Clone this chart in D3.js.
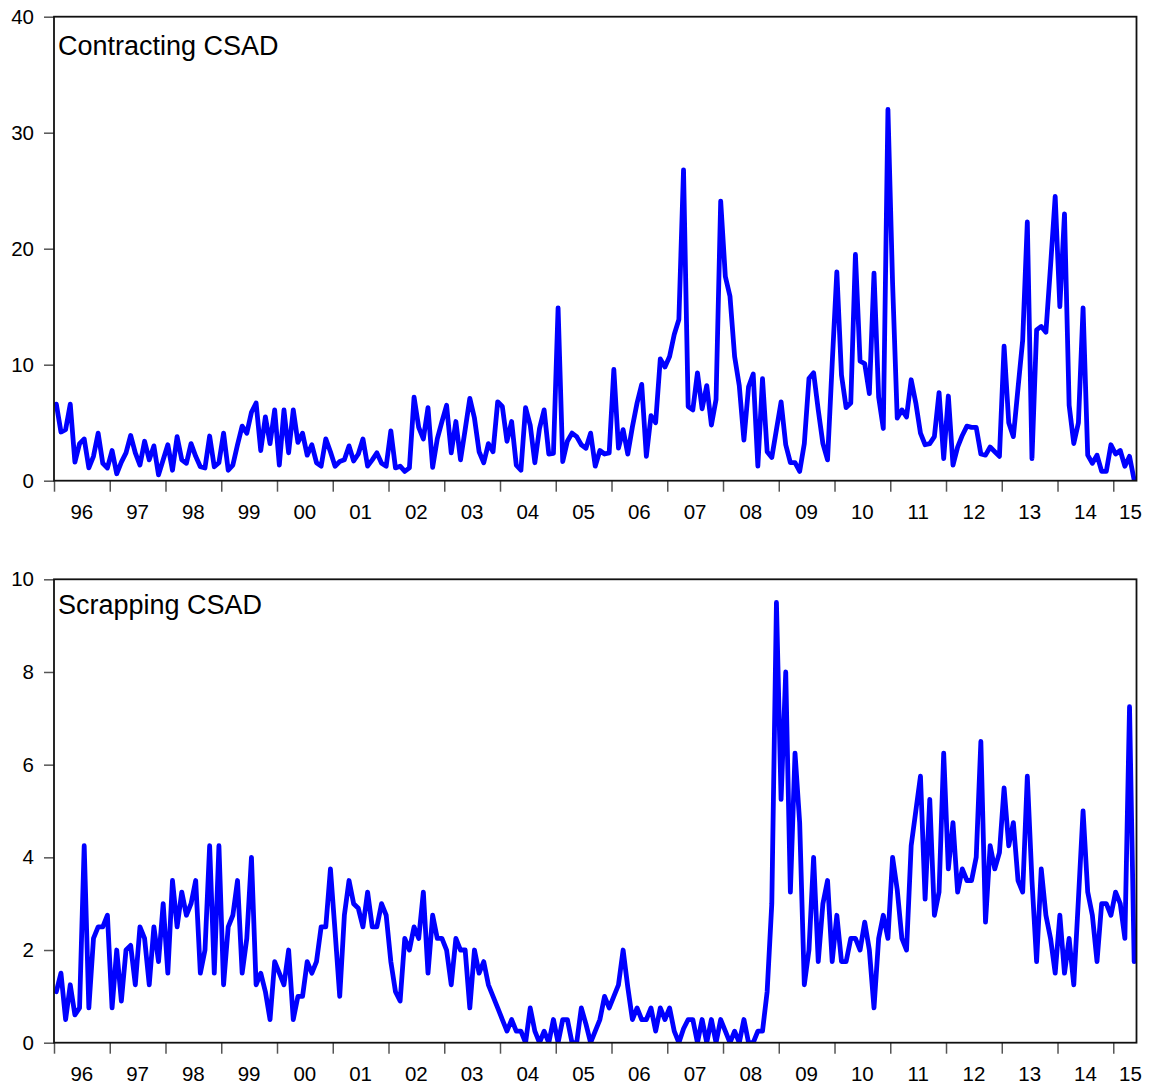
<!DOCTYPE html>
<html><head><meta charset="utf-8">
<script src="https://cdn.jsdelivr.net/npm/d3@7"></script>
<style>body{margin:0;background:#fff}</style>
</head><body>
<svg id="c" width="1150" height="1089"></svg>
<script>
const yearLabels = ["96","97","98","99","00","01","02","03","04","05","06","07","08","09","10","11","12","13","14","15"];

const contracting = [
  6.6, 4.2, 4.4, 6.6, 1.6, 3.2, 3.6, 1.1, 2.1, 4.1, 1.5, 1.1,
  2.6, 0.6, 1.6, 2.4, 3.9, 2.4, 1.35, 3.4, 1.8, 3.0, 0.5, 1.8,
  3.1, 0.9, 3.8, 1.8, 1.5, 3.2, 2.1, 1.2, 1.1, 3.85, 1.2, 1.55,
  4.1, 0.9, 1.35, 3.1, 4.7, 4.1, 5.9, 6.7, 2.6, 5.5, 3.2, 6.1,
  1.35, 6.1, 2.4, 6.1, 3.3, 4.1, 2.2, 3.1, 1.55, 1.25, 3.6, 2.5,
  1.25, 1.65, 1.8, 3.0, 1.7, 2.3, 3.6, 1.25, 1.8, 2.4, 1.5, 1.25,
  4.3, 1.1, 1.25, 0.8, 1.1, 7.2, 4.6, 3.6, 6.3, 1.15, 3.6, 5.1,
  6.5, 2.4, 5.1, 1.8, 4.4, 7.1, 5.4, 2.5, 1.55, 3.2, 2.5, 6.8,
  6.4, 3.4, 5.1, 1.35, 0.9, 6.3, 4.8, 1.55, 4.5, 6.1, 2.3, 2.35,
  14.9, 1.65, 3.4, 4.1, 3.8, 3.1, 2.8, 4.1, 1.25, 2.6, 2.3, 2.4,
  9.6, 2.8, 4.4, 2.3, 4.65, 6.7, 8.3, 2.1, 5.6, 5.0, 10.5, 9.8,
  10.7, 12.6, 13.9, 26.8, 6.4, 6.1, 9.3, 6.2, 8.2, 4.8, 7.0, 24.1,
  17.6, 15.9, 10.7, 8.2, 3.5, 8.1, 9.2, 1.25, 8.8, 2.5, 2.0, 4.4,
  6.8, 3.1, 1.55, 1.55, 0.8, 3.2, 8.8, 9.3, 6.1, 3.2, 1.8, 10.1,
  18.0, 9.1, 6.3, 6.7, 19.5, 10.3, 10.1, 7.5, 17.9, 7.2, 4.5, 32.0,
  17.0, 5.4, 6.1, 5.5, 8.7, 6.7, 4.1, 3.1, 3.2, 3.8, 7.6, 1.9,
  7.3, 1.35, 2.9, 3.9, 4.7, 4.6, 4.6, 2.3, 2.2, 2.9, 2.5, 2.1,
  11.6, 5.0, 3.8, 8.0, 12.1, 22.3, 1.9, 13.0, 13.3, 12.8, 18.5, 24.5,
  15.0, 23.0, 6.5, 3.2, 5.0, 14.9, 2.2, 1.5, 2.2, 0.8, 0.8, 3.1,
  2.3, 2.6, 1.25, 2.1, 0.05
];

const scrapping = [
  1.1, 1.5, 0.5, 1.25, 0.6, 0.75, 4.25, 0.75, 2.25, 2.5, 2.5, 2.75,
  0.75, 2.0, 0.9, 2.0, 2.1, 1.25, 2.5, 2.25, 1.25, 2.5, 1.75, 3.0,
  1.5, 3.5, 2.5, 3.25, 2.75, 3.0, 3.5, 1.5, 2.0, 4.25, 1.5, 4.25,
  1.25, 2.5, 2.75, 3.5, 1.5, 2.25, 4.0, 1.25, 1.5, 1.1, 0.5, 1.75,
  1.5, 1.25, 2.0, 0.5, 1.0, 1.0, 1.75, 1.5, 1.75, 2.5, 2.5, 3.75,
  2.4, 1.0, 2.75, 3.5, 3.0, 2.9, 2.5, 3.25, 2.5, 2.5, 3.0, 2.75,
  1.75, 1.1, 0.9, 2.25, 2.0, 2.5, 2.25, 3.25, 1.5, 2.75, 2.25, 2.25,
  2.0, 1.25, 2.25, 2.0, 2.0, 0.75, 2.0, 1.5, 1.75, 1.25, 1.0, 0.75,
  0.5, 0.25, 0.5, 0.25, 0.25, 0, 0.75, 0.25, 0, 0.25, 0, 0.5,
  0, 0.5, 0.5, 0, 0, 0.75, 0.4, 0, 0.25, 0.5, 1.0, 0.75,
  1.0, 1.25, 2.0, 1.2, 0.5, 0.75, 0.5, 0.5, 0.75, 0.25, 0.75, 0.5,
  0.75, 0.25, 0, 0.3, 0.5, 0.5, 0, 0.5, 0, 0.5, 0, 0.5,
  0.25, 0, 0.25, 0, 0.5, 0, 0, 0.25, 0.25, 1.1, 3.0, 9.5,
  5.25, 8.0, 3.25, 6.25, 4.75, 1.25, 2.0, 4.0, 1.75, 3.0, 3.5, 1.75,
  2.75, 1.75, 1.75, 2.25, 2.25, 2.0, 2.6, 2.0, 0.75, 2.25, 2.75, 2.25,
  4.0, 3.3, 2.25, 2.0, 4.25, 5.0, 5.75, 3.1, 5.25, 2.75, 3.25, 6.25,
  3.75, 4.75, 3.25, 3.75, 3.5, 3.5, 4.0, 6.5, 2.6, 4.25, 3.75, 4.1,
  5.5, 4.25, 4.75, 3.5, 3.25, 5.75, 3.5, 1.75, 3.75, 2.75, 2.25, 1.5,
  2.75, 1.5, 2.25, 1.25, 3.1, 5.0, 3.25, 2.75, 1.75, 3.0, 3.0, 2.75,
  3.25, 3.0, 2.25, 7.25, 1.75
];

const contractingTicks = [0, 10, 20, 30, 40];
const scrappingTicks = [0, 2, 4, 6, 8, 10];

const svg = d3.select("#c");
const FONT = "'Liberation Sans', Arial, Helvetica, sans-serif";
const L = 54, R = 1136.5;

function panel(id, top, bottom, data, yMax, ticks, title, titleY) {
  const n = data.length;
  const x = d3.scaleLinear().domain([0, n]).range([L, R]);
  const y = d3.scaleLinear().domain([0, yMax]).range([bottom, top]);
  const g = svg.append("g");

  g.append("clipPath").attr("id", id).append("rect")
    .attr("x", L).attr("y", top).attr("width", R - L).attr("height", bottom - top);

  const ya = g.append("g").attr("transform", `translate(${L},0)`)
    .call(d3.axisLeft(y).tickValues(ticks).tickSize(10).tickPadding(10).tickFormat(d3.format("d")));
  ya.select(".domain").remove();
  ya.selectAll("line").attr("stroke", "#555").attr("stroke-width", 1.5);
  ya.selectAll("text").attr("font-family", FONT).attr("font-size", "20.5px").attr("fill", "#000");

  const xt = d3.range(0, n, 12);
  const xa = g.append("g").attr("transform", `translate(0,${bottom})`)
    .call(d3.axisBottom(x).tickValues(xt).tickSize(11).tickFormat(""));
  xa.select(".domain").remove();
  xa.selectAll("line").attr("stroke", "#555").attr("stroke-width", 1.5);

  g.selectAll("text.yl").data(yearLabels).enter().append("text")
    .attr("class", "yl")
    .attr("x", (d, i) => Math.min(x(i * 12 + 6), R - 6))
    .attr("y", bottom + 38.5)
    .attr("text-anchor", "middle")
    .attr("font-family", FONT).attr("font-size", "20.5px").attr("fill", "#000")
    .text(d => d);

  const line = d3.line().x((d, i) => x(i + 0.5)).y(d => y(d));
  g.append("path").datum(data)
    .attr("clip-path", `url(#${id})`)
    .attr("d", line)
    .attr("fill", "none")
    .attr("stroke", "#0000ff")
    .attr("stroke-width", 4.8)
    .attr("stroke-linejoin", "round")
    .attr("stroke-linecap", "round");

  g.append("rect").attr("x", L).attr("y", top).attr("width", R - L).attr("height", bottom - top)
    .attr("fill", "none").attr("stroke", "#111").attr("stroke-width", 1.8);

  g.append("text").attr("x", 58).attr("y", titleY)
    .attr("font-family", FONT).attr("font-size", "27px").attr("fill", "#000")
    .text(title);
}

panel("clipA", 16.7, 480.7, contracting, 40, contractingTicks, "Contracting CSAD", 55);
panel("clipB", 579.3, 1042.7, scrapping, 10, scrappingTicks, "Scrapping CSAD", 613.5);
</script>
</body></html>
